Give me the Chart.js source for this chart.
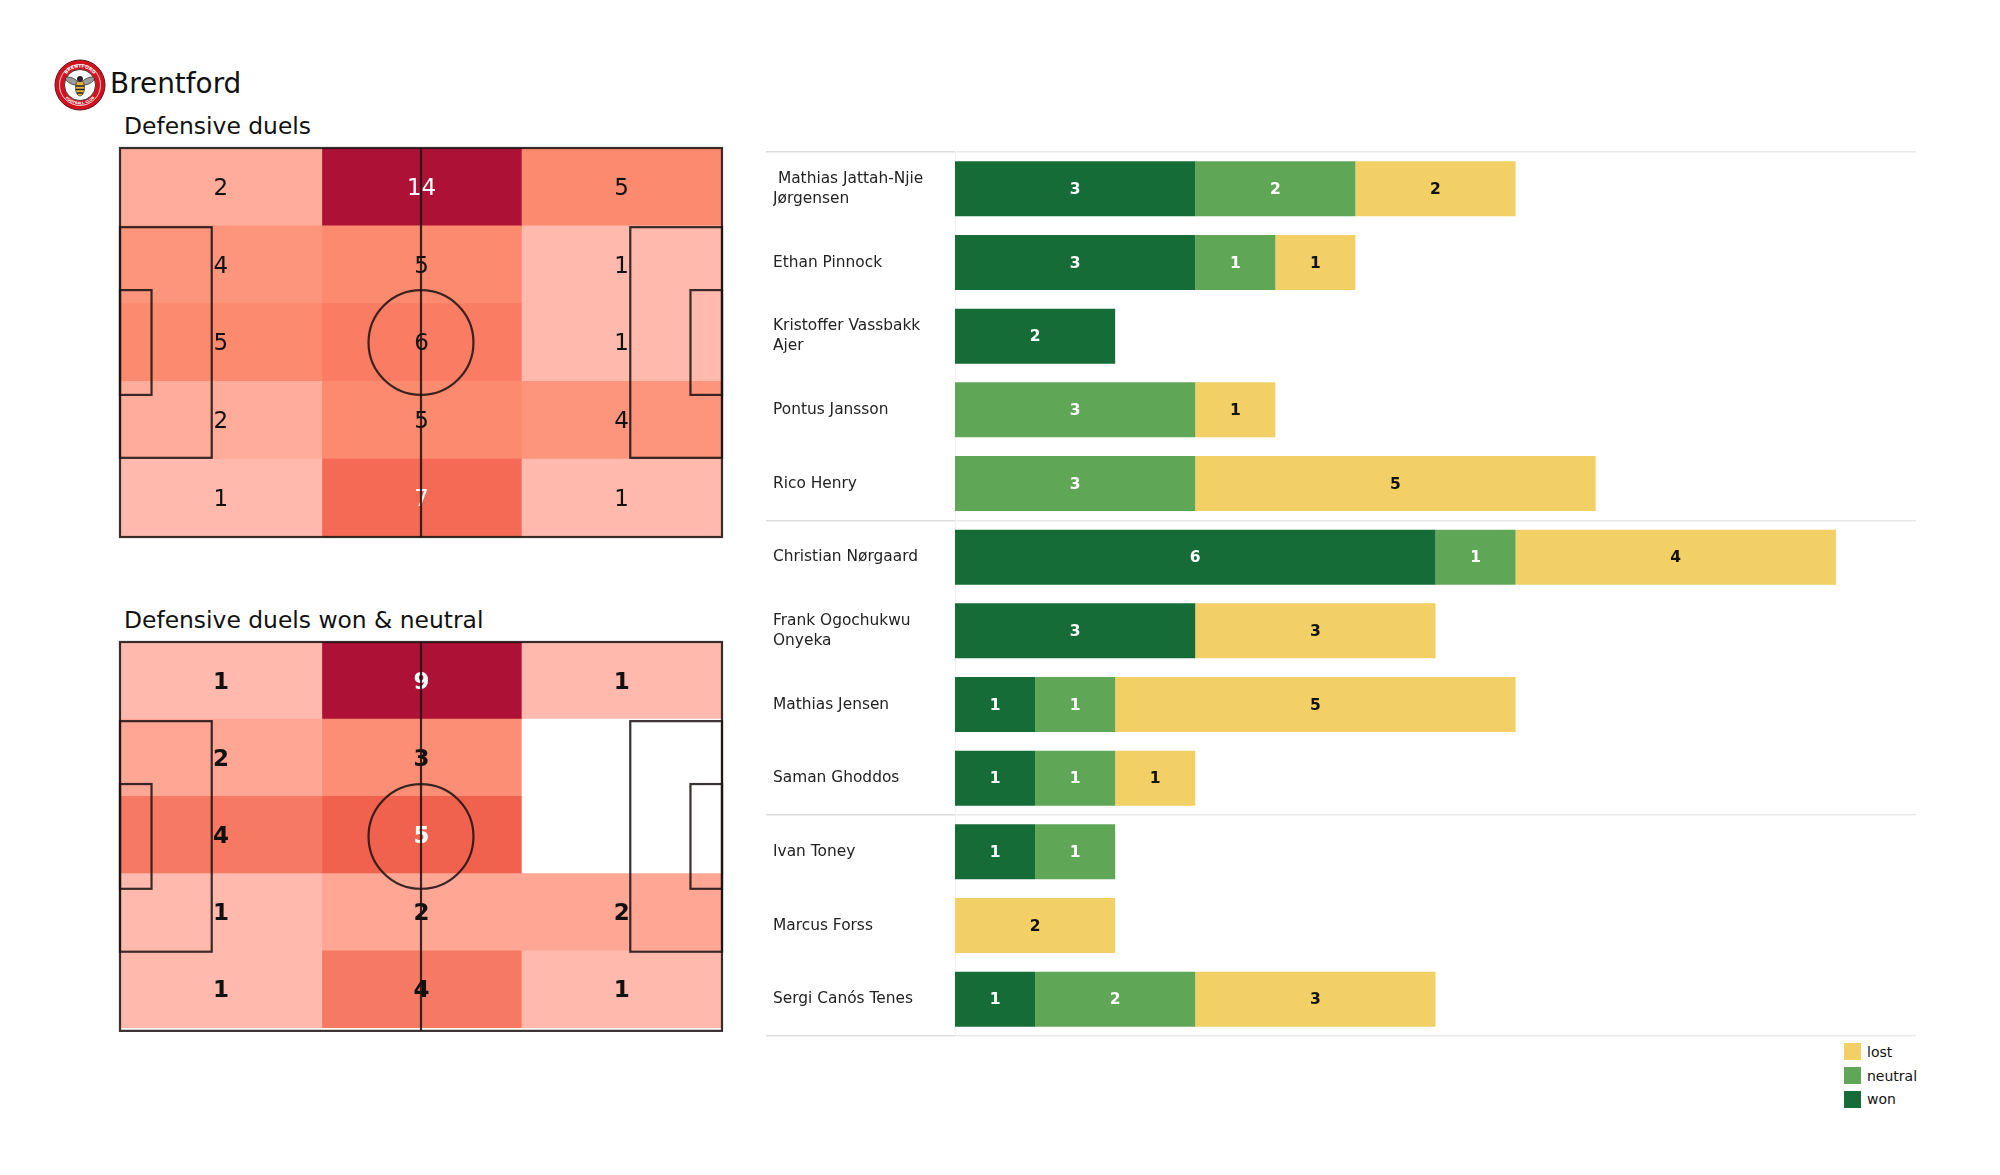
<!DOCTYPE html>
<html>
<head>
<meta charset="utf-8">
<title>Brentford defensive duels</title>
<script src="https://cdn.jsdelivr.net/npm/chart.js@4"></script>
<style>
    body { margin: 0; background: #fff; width: 2000px; height: 1175px; position: relative; overflow: hidden; font-family: "DejaVu Sans", sans-serif; color: #111; }
    canvas, .txt, #crest, #legend { position: absolute; }
    .txt { white-space: nowrap; line-height: 1; }
    #legend { left: 1844px; top: 1040px; font-size: 14px; }
    #legend div { display: flex; align-items: center; height: 23.7px; }
    #legend span { display: inline-block; width: 17px; height: 17px; margin-right: 6px; }
</style>
</head>
<body>
<svg id="crest" style="left:54px;top:59px" width="52" height="52" viewBox="-26 -26 52 52">
    <circle r="25" fill="#d4121f" stroke="#5a1418" stroke-width="1"/>
    <circle r="20.5" fill="none" stroke="#fff" stroke-width="0.8"/>
    <circle r="15.5" fill="#fff" stroke="#222" stroke-width="0.8"/>
    <path id="crestTop" d="M-17.5 0A17.5 17.5 0 0 1 17.5 0" fill="none"/>
    <path id="crestBottom" d="M-19.5 0A19.5 19.5 0 0 0 19.5 0" fill="none"/>
    <text font-size="4.6" font-weight="bold" fill="#fff" text-anchor="middle"><textPath href="#crestTop" startOffset="50%">BRENTFORD</textPath></text>
    <text font-size="3.6" font-weight="bold" fill="#fff" text-anchor="middle"><textPath href="#crestBottom" startOffset="50%">FOOTBALL CLUB</textPath></text>
    <ellipse cx="-8" cy="-4" rx="7" ry="3" transform="rotate(25 -8 -4)" fill="#9a9a9a" stroke="#222" stroke-width="0.6"/>
    <ellipse cx="8" cy="-4" rx="7" ry="3" transform="rotate(-25 8 -4)" fill="#9a9a9a" stroke="#222" stroke-width="0.6"/>
    <ellipse cy="3" rx="4.6" ry="8" fill="#e3b23c" stroke="#222" stroke-width="0.6"/>
    <path d="M-4.4 1H4.4M-4.2 4.5H4.2M-3 8H3" stroke="#222" stroke-width="1.3"/>
    <circle cy="-6" r="3" fill="#222"/>
</svg>
<div class="txt" style="left:110px;top:70px;font-size:27.9px">Brentford</div>
<div class="txt" style="left:124px;top:114.5px;font-size:23.4px">Defensive duels</div>
<div class="txt" style="left:124px;top:608.5px;font-size:23.4px">Defensive duels won &amp; neutral</div>

<canvas id="duelsMap" width="612" height="399" style="left:115px;top:143px"></canvas>
<canvas id="wonMap" width="612" height="399" style="left:115px;top:637px"></canvas>
<canvas id="playerBars" width="1150" height="892" style="left:766px;top:148px"></canvas>
<div id="legend"></div>

<script>
// zone counts, one array per column of the pitch, top row first
const rowNames = ["r1", "r2", "r3", "r4", "r5"];
const zoneEdges = [0, 35.2, 70, 105];
const duelsLeft = [2, 4, 5, 2, 1];
const duelsCentre = [14, 5, 6, 5, 7];
const duelsRight = [5, 1, 1, 4, 1];
const wonLeft = [1, 2, 4, 1, 1];
const wonCentre = [9, 3, 5, 2, 4];
const wonRight = [1, 0, 0, 2, 1];

// player duels, top bar first
const players = [
    [" Mathias Jattah-Njie", "Jørgensen"],
    "Ethan Pinnock",
    ["Kristoffer Vassbakk", "Ajer"],
    "Pontus Jansson",
    "Rico Henry",
    "Christian Nørgaard",
    ["Frank Ogochukwu", "Onyeka"],
    "Mathias Jensen",
    "Saman Ghoddos",
    "Ivan Toney",
    "Marcus Forss",
    "Sergi Canós Tenes",
];
const won = [3, 3, 2, 0, 0, 6, 3, 1, 1, 1, 0, 1];
const neutral = [2, 1, 0, 3, 3, 1, 0, 1, 1, 1, 0, 2];
const lost = [2, 1, 0, 1, 5, 4, 3, 5, 1, 0, 2, 3];

// cell colour per count, each map has its own scale
const duelsColours = { 1: "#ffbaad", 2: "#ffac9b", 4: "#fd957c", 5: "#fc8a6e", 6: "#fa7c63", 7: "#f46a54", 14: "#ae1136" };
const wonColours = { 0: "#ffffff", 1: "#ffbaad", 2: "#ffa695", 3: "#fc8e75", 4: "#f67a63", 5: "#f0624e", 9: "#ae1136" };
const whiteCounts = { duelsMap: [7, 14], wonMap: [5, 9] };

Chart.defaults.font.family = "'DejaVu Sans', sans-serif";
Chart.defaults.color = "#111";

const PITCH_W = 105;
const PITCH_H = 68;

// numbers on the cells, then the pitch lines on top
const pitchPlugin = {
    id: "pitch",
    afterDatasetsDraw(chart, args, opts) {
        const c = chart.ctx;
        const xs = chart.scales.x;
        const ys = chart.scales.pitchY;
        const px = (v) => xs.getPixelForValue(v);
        const py = (v) => ys.getPixelForValue(v);

        c.save();
        c.font = opts.font;
        c.textAlign = "center";
        c.textBaseline = "middle";
        chart.data.datasets.forEach((ds, d) => {
            chart.getDatasetMeta(d).data.forEach((bar, i) => {
                const count = ds.counts[i];
                if (!count) return;
                c.fillStyle = opts.white.includes(count) ? "#fff" : "#111";
                c.fillText(count, (xs.getPixelForValue(ds.data[i][0]) + xs.getPixelForValue(ds.data[i][1])) / 2, bar.y + 2);
            });
        });

        c.strokeStyle = "rgba(30,20,20,0.88)";
        c.lineWidth = 2.2;
        const rect = (x0, y0, x1, y1) => c.strokeRect(px(x0), py(y0), px(x1) - px(x0), py(y1) - py(y0));
        rect(0, 0, PITCH_W, PITCH_H);
        rect(0, 13.84, 16, 54.16);
        rect(PITCH_W - 16, 13.84, PITCH_W, 54.16);
        rect(0, 24.84, 5.5, 43.16);
        rect(PITCH_W - 5.5, 24.84, PITCH_W, 43.16);
        c.beginPath();
        c.moveTo(px(PITCH_W / 2), py(0));
        c.lineTo(px(PITCH_W / 2), py(PITCH_H));
        c.stroke();
        c.beginPath();
        c.ellipse(px(PITCH_W / 2), py(PITCH_H / 2), px(9.15) - px(0), py(9.15) - py(0), 0, 0, Math.PI * 2);
        c.stroke();
        c.restore();
    },
};

function drawMap(id, columns, colours, fontStr, bottomPad, pitchMax) {
    new Chart(document.getElementById(id), {
        type: "bar",
        data: {
            labels: rowNames,
            datasets: columns.map((counts, col) => ({
                counts: counts,
                data: counts.map(() => [zoneEdges[col], zoneEdges[col + 1]]),
                backgroundColor: counts.map((v) => colours[v]),
                borderWidth: 0,
                barPercentage: 1,
                categoryPercentage: 1,
            })),
        },
        options: {
            indexAxis: "y",
            responsive: false,
            animation: false,
            layout: { padding: { left: 5, right: 5, top: 5, bottom: bottomPad } },
            plugins: {
                legend: { display: false },
                tooltip: { enabled: false },
                pitch: { font: fontStr, white: whiteCounts[id] },
            },
            scales: {
                x: { type: "linear", min: 0, max: PITCH_W, display: false },
                y: { stacked: true, display: false },
                pitchY: { type: "linear", axis: "y", offset: false, min: 0, max: pitchMax, reverse: true, display: false },
            },
        },
        plugins: [pitchPlugin],
    });
}

drawMap("duelsMap", [duelsLeft, duelsCentre, duelsRight], duelsColours, "23px 'DejaVu Sans'", 5, PITCH_H);
drawMap("wonMap", [wonLeft, wonCentre, wonRight], wonColours, "bold 23px 'DejaVu Sans'", 8, 67.5);

// value inside every bar segment
const barValuePlugin = {
    id: "barValues",
    afterDatasetsDraw(chart) {
        const c = chart.ctx;
        c.save();
        c.font = "bold 15.5px 'DejaVu Sans'";
        c.textAlign = "center";
        c.textBaseline = "middle";
        chart.data.datasets.forEach((ds, d) => {
            chart.getDatasetMeta(d).data.forEach((bar, i) => {
                if (!ds.data[i]) return;
                c.fillStyle = ds.valueColor;
                c.fillText(ds.data[i], (bar.x + bar.base) / 2, bar.y + 1);
            });
        });
        c.restore();
    },
};

const separators = [0, 5, 9, 12];
const barChart = new Chart(document.getElementById("playerBars"), {
    type: "bar",
    data: {
        labels: players,
        datasets: [
            { label: "won", data: won, backgroundColor: "#156c37", valueColor: "#fff" },
            { label: "neutral", data: neutral, backgroundColor: "#60a657", valueColor: "#fff" },
            { label: "lost", data: lost, backgroundColor: "#f2d065", valueColor: "#111" },
        ].map((ds) => ({ ...ds, borderWidth: 0, barPercentage: 0.747, categoryPercentage: 1 })),
    },
    options: {
        indexAxis: "y",
        responsive: false,
        animation: false,
        layout: { padding: { left: 7, right: 0, top: 4, bottom: 4 } },
        plugins: { legend: { display: false }, tooltip: { enabled: false } },
        scales: {
            x: { stacked: true, min: 0, max: 12, display: false },
            y: {
                stacked: true,
                offset: true,
                afterFit(scale) {
                    scale.width = 182;
                    scale.paddingTop = 0;
                    scale.paddingBottom = 0;
                },
                ticks: {
                    autoSkip: false,
                    crossAlign: "far",
                    padding: 0,
                    font: { size: 15.4, lineHeight: 1.3 },
                    color: "#222",
                },
                border: { display: true, color: "#f1f1f1", width: 1 },
                grid: {
                    offset: true,
                    tickLength: 189,
                    lineWidth: 1.5,
                    tickWidth: 1.5,
                    color: (ctx) => (ctx.index === undefined || separators.includes(ctx.index) ? "#e9e9e9" : "rgba(0,0,0,0)"),
                    tickColor: (ctx) => (ctx.index === undefined || separators.includes(ctx.index) ? "#dcdcdc" : "rgba(0,0,0,0)"),
                },
            },
        },
    },
    plugins: [barValuePlugin],
});

// legend reads from the chart, lost on top
document.getElementById("legend").innerHTML = barChart.data.datasets
    .slice()
    .reverse()
    .map((ds) => `<div><span style="background:${ds.backgroundColor}"></span>${ds.label}</div>`)
    .join("");
</script>
</body>
</html>
